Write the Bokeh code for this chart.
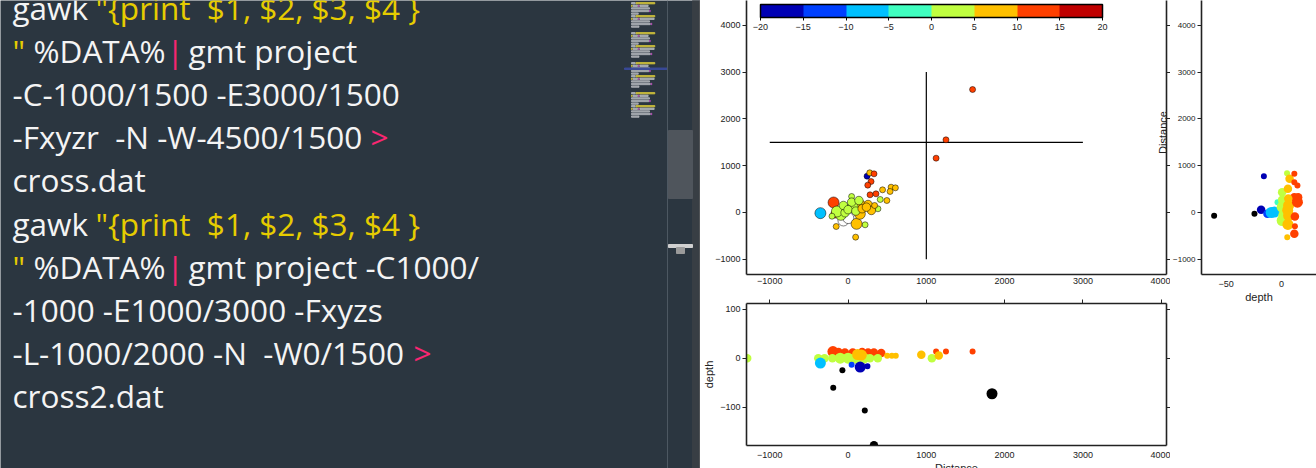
import math
from bokeh.plotting import figure
from bokeh.models import (Range1d, ColumnDataSource, LinearColorMapper, ColorBar,
                          FixedTicker, LinearAxis, Label)
from bokeh.layouts import row, column
from bokeh.transform import transform
from bokeh.core.properties import value
from bokeh.embed import file_html
from bokeh.resources import INLINE

NAN = float("nan")
NBSP = "\u00a0"

# ---------------- editor text (left side of the screenshot) ----------------
seg_text = ['gawk ', '"{print' + NBSP + ' $1, $2, $3, $4 }',
            '"', '%DATA%', '|', 'gmt project',
            '-C-1000/1500 -E3000/1500',
            '-Fxyzr' + NBSP + ' -N -W-4500/1500', '>',
            'cross.dat',
            'gawk ', '"{print' + NBSP + ' $1, $2, $3, $4 }',
            '"', '%DATA%', '|', 'gmt project -C1000/',
            '-1000 -E1000/3000 -Fxyzs',
            '-L-1000/2000 -N' + NBSP + ' -W0/1500', '>',
            'cross2.dat']
seg_line = [0, 0, 1, 1, 1, 1, 2, 3, 3, 4, 5, 5, 6, 6, 6, 6, 7, 8, 8, 9]
seg_kind = ['plain', 'string', 'string', 'plain', 'op', 'plain', 'plain', 'plain', 'op',
            'plain', 'plain', 'string', 'string', 'plain', 'op', 'plain', 'plain', 'plain',
            'op', 'plain']

# ---------------- chart data ----------------
cpt_ticks = [-20, -15, -10, -5, 0, 5, 10, 15, 20]
PALETTE = ["#0000b4", "#0040ff", "#00c0ff", "#40ffc0", "#c0ff40", "#ffc000", "#ff4000", "#c00000"]

# profiles used by gmt project
prof1_x = [-1000, 3000]
prof1_y = [1500, 1500]
prof2_x = [1000, 1000]
prof2_y = [-1000, 3000]

# map view: x, y, depth, magnitude
map_x = [-164, 1591, 1251, 1125, -353, -185, 243, 277, 332, 294, 252, 281, 357, 441, 550,
         605, 537, 496, 411, 382, 46, -151, 97, 218, -59, 4, 109, 151, 151, 256, -92, -142,
         -38, 59, -59, -205, 46, 139, 0, 100, 180, 298, 235, 340]
map_y = [-28, 2628, 1553, 1161, -14, 214, 776, 848, 826, 662, 584, 378, 399, 484, 541,
         527, 449, 256, 278, 79, 342, -299, -527, -263, -171, -120, -242, -28, 164, 171, -50, 21,
         -6, 114, 150, -79, 221, 256, 60, 30, 80, 43, 114, 150]
map_z = [12, 12, 12, 12, -8, 12, -17, 7, 12, 12, 12, 12, 12, 7, 7,
         7, 7, 7, 2, 2, 2, 7, 7, 2, NAN, NAN, 7, 7, 7, 7, 2, 2,
         2, 2, 2, 2, 2, 2, 2, 2, 7, 7, 7, 7]
map_mag = [2, 1, 1, 1, 3, 3, 1, 1, 1, 1, 1, 1, 1, 1, 1,
           1, 1, 1, 1, 1, 1, 1, 1, 1, 3, 3, 3, 3, 3, 2, 3, 3,
           2, 3, 2, 1, 2, 2, 2, 2, 2, 2, 2, 1]

# cross-section 1: depth vs distance
xs1_depth = [-60.9, -24.5, -16, -18.5, -12.8, -9.4, -6.5, -3.7, 0.5, 0.5, 0.5, 0.8, 1.0, 0.5,
             5.1, 4.9, 7.2, 11.5, 11.5, 14.3, 5.7, 11.5, 6.3, 14.3, 6.3, 12, 5.7, 12, 11.5,
             14.9, 5.5, 6.0]
xs1_dist = [-71, -28, 776, 57, -28, 0, 10, 220, 434, 113, -171, -60, 200, 271,
            -527, 840, 720, 827, 648, 577, 506, 327, 150, 220, -64, -85, -256, -293, -455,
            327, 50, 300]
xs1_mag = [1, 1, 1, 2, 2, 3, 3, 1, 2, 3, 3, 2, 2, 2,
           1, 1, 2, 1, 1, 1, 2, 2, 3, 3, 3, 2, 3, 1, 2,
           2, 3, 2]

# cross-section 2: distance vs depth
xs2_dist = [-193, -122, -40, 60, 180, 256, 330, 424, 1125, 1251, 1591,
            -1288, -380, -300, -200, -100, 0, 100, 200, 280, 380, 1071,
            122, 170, 500, 560, 610, 936, 1159,
            -353, 46, 155, 248, -72, -189, 214, 331, 1839]
xs2_depth = [14, 13, 12, 12, 13, 12, 12, 11, 14, 14, 14,
             0.5, 0.5, 0.5, 0.5, 0.5, 0.5, 0.5, 0.5, 0.5, 0.5, 0.5,
             8, 7, 5.5, 5.5, 5.5, 7.5, 6,
             -9.5, -13, -17.7, -16, -24, -60, -106, -177, -72]
xs2_mag = [3, 2, 2, 2, 2, 2, 2, 2, 1, 1, 1,
           2, 2, 2, 2, 3, 3, 3, 3, 2, 2, 2,
           3, 3, 1, 1, 1, 2, 2,
           3, 1, 3, 1, 1, 1, 1, 2, 3]

# axis ticks
dist_ticks = [-1000, 0, 1000, 2000, 3000, 4000]
north_ticks = [-1000, 0, 1000, 2000, 3000, 4000]
depth_ticks_v = [-100, 0, 100]
depth_ticks_h = [-50, 0]

# ---------------- styles ----------------
BG = "#2b3640"
FONT = "Liberation Sans"
INK = "#222222"
kind_color = {'plain': '#f4f4f4', 'string': '#e6cc00', 'op': '#f92672'}
seg_x_pos = [12, 95, 12, 33, 166, 188, 12, 12, 370, 12, 12, 95, 12, 33, 166, 188, 12, 12, 413, 12]


def msize(m):
    return [3.5 + 2.5 * v for v in m]


# ---------------- editor panel ----------------
ed = figure(width=700, height=468, x_range=Range1d(0, 700), y_range=Range1d(468, 0),
            min_border=0, x_axis_location=None, y_axis_location=None,
            output_backend="svg", toolbar_location=None,
            background_fill_color=BG, border_fill_color=BG, outline_line_color=None)
ed.xgrid.visible = False
ed.ygrid.visible = False

ed_src = ColumnDataSource(dict(
    x=seg_x_pos,
    y=[7 + 43.1 * l for l in seg_line],
    text=seg_text,
    color=[kind_color[k] for k in seg_kind]))
ed.text(x='x', y='y', text='text', text_color='color', source=ed_src,
        text_font=value("Open Sans"), text_font_size="31.5px", text_baseline="alphabetic",
        text_align="left")

# minimap (small bars derived from the code lines)
mm_left, mm_top, mm_right, mm_bottom, mm_color = [], [], [], [], []
lines = {}
for t, l, kd in zip(seg_text, seg_line, seg_kind):
    lines.setdefault(l, []).append((t, kd))
for block in range(4):
    for l in sorted(lines):
        xcur = 631
        for t, kd in lines[l]:
            w = len(t) * 0.75
            top = 2 + block * 30 + l * 2.6
            mm_left.append(xcur)
            mm_right.append(xcur + w)
            mm_top.append(top)
            mm_bottom.append(top + 1.4)
            mm_color.append('#d8c83a' if kd == 'string' else ('#c050c0' if kd == 'op' else '#b8bcc0'))
            xcur += w + 0.8
ed.quad(left=mm_left, right=mm_right, top=mm_top, bottom=mm_bottom, color=mm_color, alpha=0.75)
ed.quad(left=[624], right=[667], top=[67.5], bottom=[69], color="#3a4a9a", alpha=0.9)
# scrollbar area
ed.quad(left=[692], right=[699], top=[0], bottom=[468], color="#383e44")
ed.segment(x0=[667], y0=[0], x1=[667], y1=[468], line_color="#4d5862", line_width=1)
ed.segment(x0=[699.5], y0=[0], x1=[699.5], y1=[468], line_color="#6b6b6b", line_width=1)
ed.quad(left=[668], right=[692], top=[130], bottom=[198], color="#4f555c")
ed.quad(left=[668], right=[692], top=[244], bottom=[247], color="#d0d0d0")
ed.quad(left=[676], right=[684], top=[247], bottom=[253], color="#9a9a9a")


# ---------------- helpers ----------------
def style_axis(ax, ticks, labels=True, tick_out=4, font="9px", standoff=2):
    ax.ticker = FixedTicker(ticks=ticks)
    ax.major_tick_out = tick_out
    ax.major_tick_in = 0
    ax.minor_tick_out = 0
    ax.minor_tick_in = 0
    ax.axis_line_color = INK
    ax.axis_line_width = 1.6
    ax.major_tick_line_color = INK
    ax.major_tick_line_width = 1
    ax.major_label_text_font = FONT
    ax.major_label_text_color = INK
    ax.major_label_text_font_size = font
    if labels:
        ax.major_label_standoff = standoff
    else:
        ax.major_label_overrides = {t: "" for t in ticks}
        ax.major_label_standoff = 0


def style_label(ax, text, standoff):
    ax.axis_label = text
    ax.axis_label_text_font = FONT
    ax.axis_label_text_font_size = "11px"
    ax.axis_label_text_font_style = "normal"
    ax.axis_label_text_color = INK
    ax.axis_label_standoff = standoff


mapper = LinearColorMapper(palette=PALETTE, low=-20, high=20, low_color="black",
                           high_color=PALETTE[-1], nan_color="white")

# ---------------- main map ----------------
pm = figure(width=470, height=288, x_range=Range1d(-1297, 4068), y_range=Range1d(-1325, 4530),
            min_border_left=40, min_border_right=4, min_border_top=0, min_border_bottom=14,
            output_backend="svg", toolbar_location=None, outline_line_color=None)
pm.xgrid.visible = False
pm.ygrid.visible = False
style_axis(pm.xaxis[0], dist_ticks, tick_out=0, standoff=3)
style_axis(pm.yaxis[0], north_ticks)
ra = LinearAxis()
style_axis(ra, north_ticks, labels=False)
pm.add_layout(ra, "right")

pm.line(prof1_x, prof1_y, line_color="black", line_width=1.2)
pm.line(prof2_x, prof2_y, line_color="black", line_width=1.2)

src_map = ColumnDataSource(dict(x=map_x, y=map_y, z=map_z, size=msize(map_mag)))
pm.scatter('x', 'y', size='size', source=src_map, fill_color=transform('z', mapper),
           line_color="black", line_width=0.5)

cb = ColorBar(color_mapper=mapper, orientation="horizontal", location=(14, 242),
              width=342, height=13, padding=0, margin=0,
              ticker=FixedTicker(ticks=cpt_ticks),
              major_label_text_font=FONT, major_label_text_font_size="9px",
              major_label_text_color=INK, label_standoff=3,
              bar_line_color="black", bar_line_width=1.5,
              major_tick_line_color="black", major_tick_out=3, major_tick_in=0,
              minor_tick_line_color=None,
              background_fill_alpha=0, border_line_color=None)
pm.add_layout(cb)

pm.add_layout(Label(x=416, y=142, x_units="screen", y_units="screen", text="Distance",
                    angle=math.pi / 2, text_align="center", text_baseline="middle",
                    text_font=FONT, text_font_size="11px", text_color=INK))

# ---------------- bottom cross-section ----------------
pb = figure(width=470, height=188, x_range=Range1d(-1297, 4068), y_range=Range1d(-177.5, 112),
            min_border_left=40, min_border_right=4, min_border_top=15, min_border_bottom=31,
            output_backend="svg", toolbar_location=None, outline_line_color=None)
pb.xgrid.visible = False
pb.ygrid.visible = False
style_axis(pb.xaxis[0], dist_ticks, tick_out=0, standoff=6)
style_label(pb.xaxis[0], "Distance", 1)
style_axis(pb.yaxis[0], depth_ticks_v)
style_label(pb.yaxis[0], "depth", 2)
ta = LinearAxis()
style_axis(ta, dist_ticks, labels=False)
pb.add_layout(ta, "above")
rb = LinearAxis()
style_axis(rb, depth_ticks_v, labels=False)
pb.add_layout(rb, "right")

src_xs2 = ColumnDataSource(dict(x=xs2_dist, y=xs2_depth, z=xs2_depth, size=msize(xs2_mag)))
pb.scatter('x', 'y', size='size', source=src_xs2, fill_color=transform('z', mapper),
           line_color=None)

# ---------------- right cross-section ----------------
pr = figure(width=146, height=468, x_range=Range1d(-72.3, 31.5), y_range=Range1d(-1325, 4530),
            min_border_left=25, min_border_right=0, min_border_top=0, min_border_bottom=194,
            output_backend="svg", toolbar_location=None, outline_line_color=None)
pr.xgrid.visible = False
pr.ygrid.visible = False
style_axis(pr.xaxis[0], depth_ticks_h, tick_out=0, standoff=6)
style_axis(pr.yaxis[0], north_ticks, font="8px")
style_label(pr.xaxis[0], "depth", 1)

src_xs1 = ColumnDataSource(dict(x=xs1_depth, y=xs1_dist, z=xs1_depth, size=msize(xs1_mag)))
pr.scatter('x', 'y', size='size', source=src_xs1, fill_color=transform('z', mapper),
           line_color=None)

layout = row(column(ed), column(pm, pb), column(pr))
layout.styles = {"position": "absolute", "left": "0px", "top": "0px",
                 "max-height": "468px", "overflow": "hidden"}

open("out.html", "w").write(file_html(layout, INLINE))
